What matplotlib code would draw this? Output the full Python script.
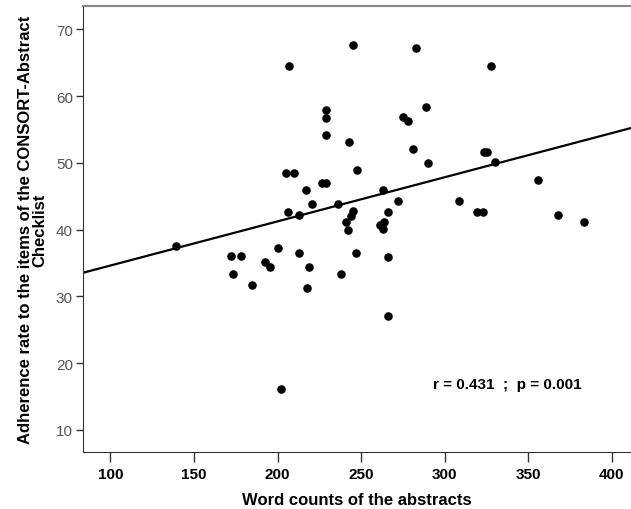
import numpy as np
import matplotlib
matplotlib.use("Agg")
import matplotlib.pyplot as plt

plt.rcParams['font.family'] = ['Liberation Sans', 'DejaVu Sans']

# word counts of the abstracts (x) and adherence rate (y)
word_counts = [206.9, 245.0, 282.9, 228.9, 228.9, 229.1, 242.8, 274.9, 277.9, 289.1,
               280.9, 290.1, 205.0, 209.9, 247.8, 217.1, 226.7, 229.3, 220.9, 235.9,
               263.0, 272.0, 308.5, 206.2, 212.9, 245.0, 243.7, 240.8, 242.0, 266.0,
               261.2, 263.6, 263.0, 200.0, 192.8, 195.2, 212.9, 218.9, 217.9, 237.9,
               247.0, 266.0, 266.0, 202.0, 139.0, 172.1, 177.9, 173.1, 184.8, 328.0,
               323.6, 325.6, 330.1, 356.1, 319.6, 323.0, 368.1, 383.2]
adherence = [64.6, 67.75, 67.2, 57.96, 56.8, 54.2, 53.2, 56.9, 56.3, 58.4,
             52.1, 50.0, 48.5, 48.5, 49.0, 45.9, 47.0, 47.0, 43.8, 43.8,
             45.9, 44.3, 44.3, 42.7, 42.2, 42.8, 42.0, 41.1, 39.9, 42.7,
             40.7, 41.1, 40.1, 37.2, 35.2, 34.4, 36.5, 34.4, 31.2, 33.3,
             36.5, 35.9, 27.1, 16.1, 37.5, 36.0, 36.0, 33.3, 31.7, 64.6,
             51.6, 51.6, 50.1, 47.4, 42.7, 42.7, 42.2, 41.2]

x_ticks = [100, 150, 200, 250, 300, 350, 400]
y_ticks = [10, 20, 30, 40, 50, 60, 70]
stats_text = "r = 0.431  ;  p = 0.001"

fig = plt.figure(figsize=(6.31, 5.10), dpi=100)
ax = fig.add_axes([0.131, 0.112, 0.869, 0.874])

ax.scatter(word_counts, adherence, s=38, color='black', zorder=3, linewidths=0)

# linear fit line across the whole axis
xmin, xmax = 83.4, 411.5
slope, intercept = np.polyfit(word_counts, adherence, 1)
xs = np.array([xmin, xmax])
ax.plot(xs, intercept + slope * xs, color='black', lw=1.6, zorder=2)

ax.set_xlim(xmin, xmax)
ax.set_ylim(6.7, 73.5)
ax.set_xticks(x_ticks)
ax.set_yticks(y_ticks)
ax.set_xticklabels([str(t) for t in x_ticks], fontsize=11, fontweight='bold')
ax.set_yticklabels([str(t) for t in y_ticks], fontsize=11, color='#555555')
ax.tick_params(axis='x', length=7, width=1, color='#333333', pad=4)
ax.tick_params(axis='y', length=5, width=1, color='#333333', pad=2)

for side in ['left', 'bottom']:
    ax.spines[side].set_color('#333333')
ax.spines['top'].set_color('#888888')
ax.spines['top'].set_linewidth(1.5)
ax.spines['right'].set_visible(False)

ax.set_xlabel('Word counts of the abstracts', fontsize=12, fontweight='bold', labelpad=8)
ax.set_ylabel('Adherence rate to the items of the CONSORT-Abstract\nChecklist',
              fontsize=12, fontweight='bold', labelpad=6, linespacing=1.0)

ax.text(292.9, 16.9, stats_text, fontsize=11, fontweight='bold', va='center', ha='left')

fig.savefig('out.png', dpi=100)
